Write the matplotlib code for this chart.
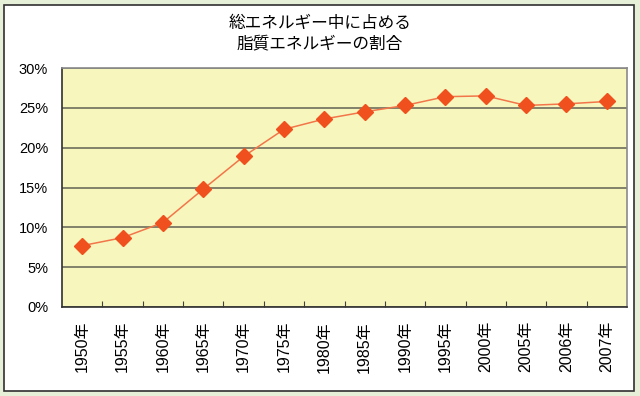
import matplotlib
matplotlib.use("Agg")
import matplotlib.pyplot as plt
from matplotlib.patches import Rectangle

plt.rcParams['font.family'] = ['Noto Sans CJK JP', 'DejaVu Sans']

years = ["1950年", "1955年", "1960年", "1965年", "1970年", "1975年", "1980年",
         "1985年", "1990年", "1995年", "2000年", "2005年", "2006年", "2007年"]
fat_ratio = [7.7, 8.7, 10.6, 14.8, 18.9, 22.3, 23.6, 24.5, 25.3, 26.4, 26.5, 25.3, 25.5, 25.8]
yticks = [0, 5, 10, 15, 20, 25, 30]
title = "総エネルギー中に占める\n脂質エネルギーの割合"

fig = plt.figure(figsize=(6.4, 3.96), dpi=100)
fig.patch.set_facecolor("#e6efd8")
fig.patches.append(Rectangle((4/640, 5/396), 630/640, 386/396, transform=fig.transFigure,
                             facecolor="white", edgecolor="#303030", linewidth=1.2, zorder=-5))

ax = fig.add_axes([62/640, 1-307/396, 565/640, (307-68)/396])
ax.set_zorder(2)
ax.set_facecolor("#f7f6bc")
x = list(range(len(years)))
ax.plot(x, fat_ratio, color="#f2764a", linewidth=1.1, marker="D", markersize=8,
        markerfacecolor="#f0501e", markeredgecolor="#f0501e", zorder=3)
ax.set_xlim(-0.5, len(years) - 0.5)
ax.set_ylim(0, 30)
ax.set_yticks(yticks)
ax.set_yticklabels([f"{v}%" for v in yticks], fontsize=10.5, family=['Liberation Sans'])
ax.yaxis.grid(True, color="#6e6e5e", linewidth=1.2)
ax.set_axisbelow(True)
ax.tick_params(axis='y', length=0, pad=10)
ax.set_xticks([i + 0.5 for i in x[:-1]], minor=False)
ax.set_xticklabels([])
ax.tick_params(axis='x', which='major', direction='in', length=4, color="#404040")
ax.set_xticks(x, minor=True)
ax.set_xticklabels(years, minor=True, rotation=90, fontsize=11.5,
                   family=['Liberation Sans', 'Noto Sans CJK JP'])
ax.tick_params(axis='x', which='minor', length=0, pad=10)
for s in ["left", "bottom"]:
    ax.spines[s].set_color("#303030")
    ax.spines[s].set_linewidth(1.2)
for s in ["top", "right"]:
    ax.spines[s].set_color("#8a8a8a")
    ax.spines[s].set_linewidth(1.2)

fig.text(0.5, 1-34/396, title, ha="center", va="center", fontsize=12, linespacing=1.25)

fig.savefig("out.png", dpi=100, facecolor=fig.get_facecolor())
